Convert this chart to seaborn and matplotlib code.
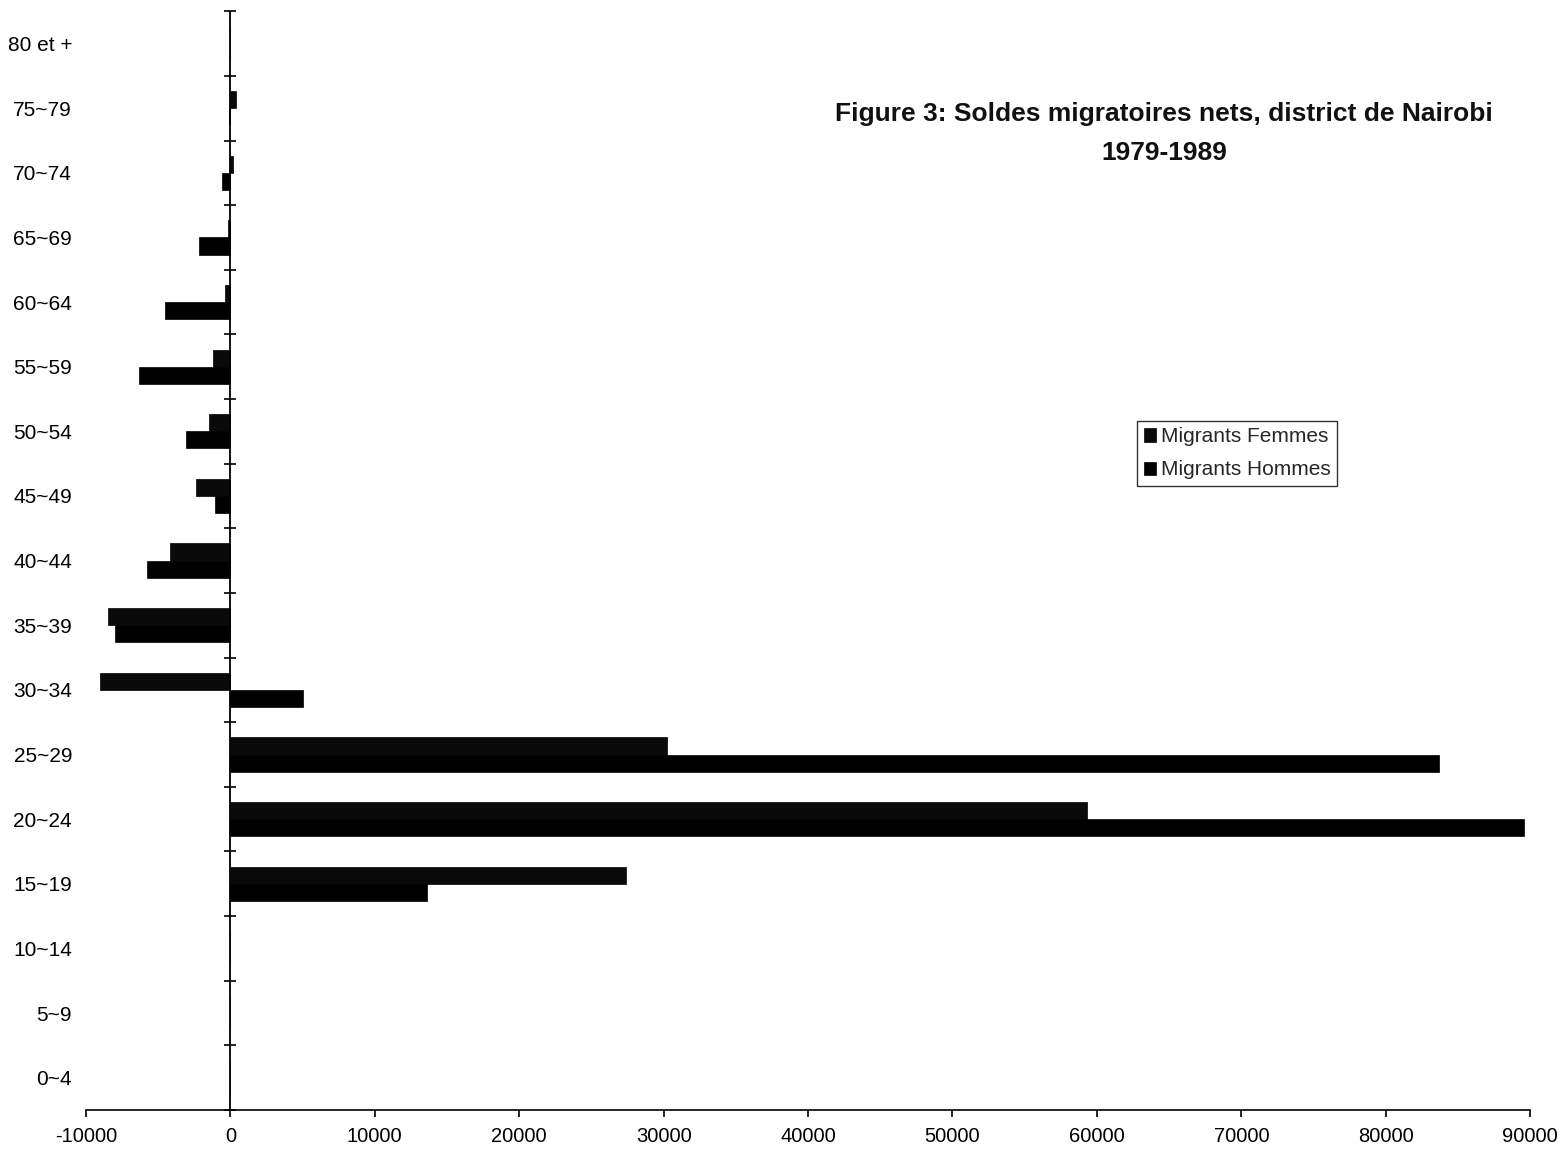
import pandas as pd
import numpy as np
import matplotlib
matplotlib.use("Agg")
import matplotlib.pyplot as plt
import seaborn as sns

# Age groups, top to bottom as in the figure
ages = ["80 et +", "75~79", "70~74", "65~69", "60~64", "55~59", "50~54",
        "45~49", "40~44", "35~39", "30~34", "25~29", "20~24", "15~19",
        "10~14", "5~9", "0~4"]

# Net migration balances
femmes = [0, 400, 150, -150, -350, -1200, -1450, -2350, -4150, -8500,
          -9000, 30200, 59300, 27400, 0, 0, 0]
hommes = [0, -100, -600, -2200, -4550, -6350, -3100, -1050, -5800, -8000,
          5000, 83700, 89600, 13600, 0, 0, 0]

x_ticks = list(range(-10000, 90001, 10000))

# Long format table for seaborn
df = pd.DataFrame({
    "age": ages * 2,
    "solde": femmes + hommes,
    "serie": ["Migrants Femmes"] * len(ages) + ["Migrants Hommes"] * len(ages),
})

sns.set_theme(style="white")
plt.rcParams["font.family"] = ["Liberation Sans", "DejaVu Sans"]

fig = plt.figure(figsize=(15.63, 11.59), dpi=100)
ax = fig.add_axes([0.055, 0.0423, 0.924, 0.948])

sns.barplot(
    data=df,
    x="solde",
    y="age",
    hue="serie",
    order=ages,
    hue_order=["Migrants Femmes", "Migrants Hommes"],
    palette=["#0a0a0a", "#000000"],
    width=0.53,
    orient="h",
    ax=ax,
    edgecolor="black",
    linewidth=0.5,
)

ax.set_xlim(-10000, 90000)
ax.set_ylim(len(ages) - 0.5, -0.5)

# Spines: only bottom, vertical axis drawn at 0
for side in ["top", "right", "left"]:
    ax.spines[side].set_visible(False)
ax.spines["bottom"].set_color("black")
ax.spines["bottom"].set_linewidth(1.2)

ax.axvline(0, color="black", linewidth=1.3, zorder=5)
bounds = np.arange(-0.5, len(ages), 1.0)
ax.plot([0] * len(bounds), bounds, linestyle="none", marker="_",
        markersize=9, markeredgewidth=1.2, color="black", zorder=6,
        clip_on=False)

ax.set_xticks(x_ticks)
ax.set_xticklabels([str(v) for v in x_ticks], fontsize=14.5)
ax.tick_params(axis="x", direction="out", length=5, width=1.2,
               colors="black", bottom=True, pad=7)
ax.tick_params(axis="y", length=0, pad=10, labelsize=15, colors="black")
for lbl in ax.get_yticklabels():
    lbl.set_horizontalalignment("right")

ax.set_xlabel("")
ax.set_ylabel("")
ax.grid(False)

# Title inside the plot area
ax.text(0.7465, 0.889, "Figure 3: Soldes migratoires nets, district de Nairobi\n1979-1989",
        transform=ax.transAxes, ha="center", va="center", fontsize=19,
        fontweight="bold", color="#111111", linespacing=1.8)

handles, labels = ax.get_legend_handles_labels()
ax.legend(handles, labels, loc="upper left", bbox_to_anchor=(0.728, 0.627),
          borderaxespad=0, frameon=True, fancybox=False, edgecolor="black",
          fontsize=15, handlelength=0.6, handleheight=0.6, handletextpad=0.25,
          borderpad=0.3, labelspacing=0.68)
ax.get_legend().get_frame().set_linewidth(1.0)

fig.savefig("out.png", dpi=100, facecolor="white")
